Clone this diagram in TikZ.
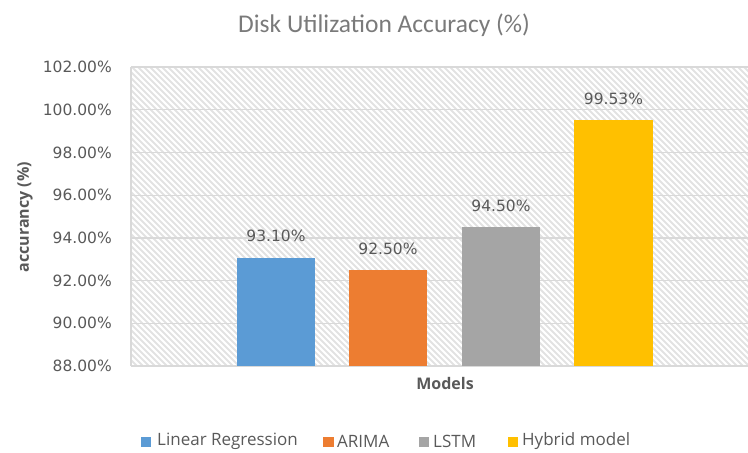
\documentclass[tikz,border=0pt]{standalone}
\usepackage{fontspec}
\setmainfont{DejaVu Sans}
\newfontfamily\titlefont{Carlito}
\newfontfamily\legfont{Open Sans}
\definecolor{txt}{HTML}{595959}
\definecolor{ttl}{HTML}{7A7A7A}
\definecolor{gridc}{HTML}{D9D9D9}
\definecolor{hatchc}{HTML}{E2E2E2}
\definecolor{cblue}{HTML}{5B9BD5}
\definecolor{corange}{HTML}{ED7D31}
\definecolor{cgray}{HTML}{A5A5A5}
\definecolor{cyellow}{HTML}{FFC000}
\tikzset{
  hatch/.style={draw=hatchc, line width=1.9pt},
  gridline/.style={draw=gridc, line width=1.3pt},
  ticklabel/.style={anchor=east, text=txt, inner sep=0pt, font=\fontsize{15.5}{18}\selectfont},
  datalabel/.style={anchor=center, text=txt, inner sep=0pt, font=\fontsize{15.5}{18}\selectfont},
  axistitle/.style={text=txt, inner sep=0pt, font=\legfont\bfseries\fontsize{16}{19}\selectfont},
  legtext/.style={anchor=west, text=txt, inner sep=0pt, font=\legfont\fontsize{17}{20}\selectfont},
  legbox/.style={minimum size=10.5pt, inner sep=0pt, anchor=center},
}
\begin{document}
\begin{tikzpicture}[x=1pt,y=-1pt]
\useasboundingbox (0,0) rectangle (748,453);

% plot area with diagonal hatching
\begin{scope}
  \clip (131,67) rectangle (748,366);
  \foreach \k in {-300,-294,...,750} \draw[hatch] (\k,67) -- ++(300,300);
\end{scope}

% horizontal gridlines and tick labels
\foreach \v/\lab in {0/88.00\%,1/90.00\%,2/92.00\%,3/94.00\%,4/96.00\%,5/98.00\%,6/100.00\%,7/102.00\%}{
  \draw[gridline] (131,{366-\v*42.71}) -- (748,{366-\v*42.71});
  \node[ticklabel] (tick\v) at (112,{366-\v*42.71}) {\lab};
}
\draw[gridline] (131,67) -- (131,366);

% bars
\fill[cblue]   (237,366) rectangle (315,257.5);
\fill[corange] (349,366) rectangle (427,270.3);
\fill[cgray]   (462,366) rectangle (540,227.4);
\fill[cyellow] (574,366) rectangle (653,119.8);

% value labels
\node[datalabel] (lab1) at (276,236) {93.10\%};
\node[datalabel] (lab2) at (388,248.5) {92.50\%};
\node[datalabel] (lab3) at (501,206) {94.50\%};
\node[datalabel] (lab4) at (613.5,99) {99.53\%};

% titles
\node[text=ttl, inner sep=0pt, font=\titlefont\fontsize{25.5}{30}\selectfont] (title) at (384,25) {Disk Utilization Accuracy (\%)};
\node[axistitle, rotate=90] (ytitle) at (25,217) {accurancy (\%)};
\node[axistitle] (xtitle) at (445,383) {Models};

% legend
\node[legbox, fill=cblue]   (k1) at (146,442) {};
\node[legtext] (t1) at (157,441) {Linear Regression};
\node[legbox, fill=corange] (k2) at (328.5,442) {};
\node[legtext] (t2) at (337,441) {ARIMA};
\node[legbox, fill=cgray]   (k3) at (424,442) {};
\node[legtext] (t3) at (433,441) {LSTM};
\node[legbox, fill=cyellow] (k4) at (513,442) {};
\node[legtext] (t4) at (522,441) {Hybrid model};
\end{tikzpicture}
\end{document}
